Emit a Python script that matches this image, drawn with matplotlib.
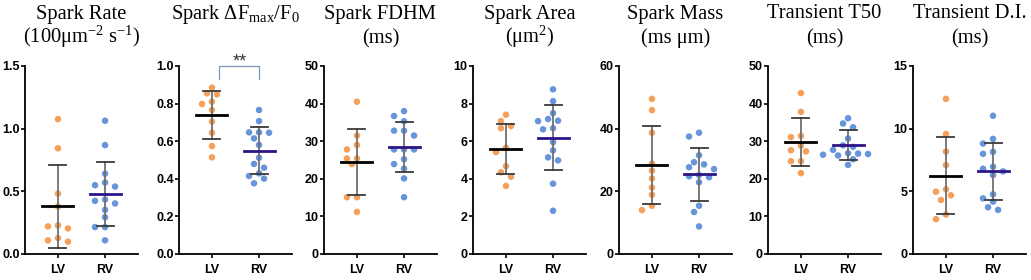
import numpy as np
import matplotlib
matplotlib.use("Agg")
import matplotlib.pyplot as plt

plt.rcParams["mathtext.fontset"] = "custom"
plt.rcParams["mathtext.rm"] = "Liberation Serif"
plt.rcParams["mathtext.it"] = "Liberation Serif:italic"

orange = "#F5A05A"
blue = "#6695DC"

groups = ["LV", "RV"]

titles = [
    ("Spark Rate", r"(100$\mathregular{\mu m^{-2}\ s^{-1}}$)"),
    (r"Spark $\mathregular{\Delta F_{max}/F_0}$", None),
    ("Spark FDHM", "(ms)"),
    ("Spark Area", r"($\mathregular{\mu m^2}$)"),
    ("Spark Mass", "(ms μm)"),
    ("Transient T50", "(ms)"),
    ("Transient D.I.", "(ms)"),
]

yticks = [
    [0.0, 0.5, 1.0, 1.5],
    [0.0, 0.2, 0.4, 0.6, 0.8, 1.0],
    [0, 10, 20, 30, 40, 50],
    [0, 2, 4, 6, 8, 10],
    [0, 20, 40, 60],
    [0, 10, 20, 30, 40, 50],
    [0, 5, 10, 15],
]
ytick_fmt = ["{:.1f}", "{:.1f}", "{:d}", "{:d}", "{:d}", "{:d}", "{:d}"]

rate_lv = [1.076, 0.843, 0.482, 0.379, 0.228, 0.220, 0.204, 0.098, 0.127, 0.109]
rate_rv = [1.063, 0.869, 0.641, 0.549, 0.570, 0.538, 0.435, 0.424, 0.403, 0.352,
           0.294, 0.215, 0.215, 0.109]
amp_lv = [0.885, 0.849, 0.855, 0.810, 0.798, 0.766, 0.704, 0.645, 0.574, 0.514]
amp_rv = [0.766, 0.707, 0.647, 0.645, 0.647, 0.615, 0.580, 0.512, 0.479, 0.459,
          0.429, 0.415, 0.401, 0.376]
fdhm_lv = [40.5, 31.5, 29.0, 27.8, 25.4, 25.4, 23.9, 15.1, 15.1, 11.2]
fdhm_rv = [38.0, 36.7, 35.3, 32.8, 32.8, 31.5, 27.8, 27.8, 27.8, 25.2, 23.9, 22.7,
           20.1, 15.1]
area_lv = [7.41, 7.07, 6.81, 6.69, 5.65, 5.42, 4.67, 4.35, 4.11, 3.62]
area_rv = [8.76, 8.13, 7.49, 7.07, 7.09, 7.18, 6.63, 6.69, 5.95, 5.51, 5.14, 4.98,
           3.74, 2.30]
mass_lv = [49.5, 45.9, 38.7, 28.9, 26.6, 24.1, 21.2, 18.9, 15.4, 14.0]
mass_rv = [38.7, 37.5, 31.5, 29.3, 28.6, 27.7, 27.1, 25.2, 24.8, 24.5, 22.9, 15.4,
           13.4, 8.8]
t50_lv = [42.8, 37.8, 31.4, 31.1, 28.8, 27.6, 27.3, 24.7, 24.7, 21.5]
t50_rv = [36.1, 34.7, 33.7, 30.7, 28.9, 28.5, 27.7, 26.8, 26.7, 26.6, 26.4, 26.2,
          25.2, 23.7]
di_lv = [12.38, 9.58, 8.17, 7.09, 5.16, 4.97, 4.68, 4.31, 3.15, 2.78]
di_rv = [11.03, 9.18, 8.81, 8.15, 7.99, 6.96, 6.80, 6.59, 6.30, 4.76, 4.44, 4.18,
         3.73, 3.52]

lv_data = [rate_lv, amp_lv, fdhm_lv, area_lv, mass_lv, t50_lv, di_lv]
rv_data = [rate_rv, amp_rv, fdhm_rv, area_rv, mass_rv, t50_rv, di_rv]

# mean and SD as shown in the figure
lv_mean = [0.379, 0.739, 24.4, 5.58, 28.3, 29.8, 6.25]
rv_mean = [0.480, 0.549, 28.5, 6.19, 25.4, 29.0, 6.61]
lv_sd = [0.334, 0.126, 8.75, 1.35, 12.5, 6.3, 3.06]
rv_sd = [0.257, 0.126, 6.6, 1.745, 8.4, 3.9, 2.275]

spine_px = [25, 179, 324, 473, 619, 768, 913]
W, H = 1031, 280
ax_w = 113
ax_bottom = 254
ax_top = 66
x_px_per_unit = ax_w / 2.4


def swarm_offsets(vals, y_px_per_unit, step=5.0, dist=7.0):
    # simple beeswarm in pixel space, returns x offsets in data units
    y = np.asarray(vals, dtype=float) * y_px_per_unit
    order = np.argsort(-y)
    placed = []
    offs = np.zeros(len(y))
    cands = [0.0]
    for k in range(1, 12):
        cands += [-k * step, k * step]
    for idx in order:
        for c in cands:
            ok = all((c - px) ** 2 + (y[idx] - py) ** 2 >= dist ** 2
                     for px, py in placed)
            if ok:
                break
        placed.append((c, y[idx]))
        offs[idx] = c / x_px_per_unit
    return offs


fig = plt.figure(figsize=(W / 100, H / 100), dpi=100)

for i in range(7):
    ax = fig.add_axes([spine_px[i] / W, (H - ax_bottom) / H, ax_w / W,
                       (ax_bottom - ax_top) / H])
    ymax = yticks[i][-1]
    y_px_per_unit = (ax_bottom - ax_top) / ymax

    for pos, vals, col, m, sd, mcol in [
        (0, lv_data[i], orange, lv_mean[i], lv_sd[i], "black"),
        (1, rv_data[i], blue, rv_mean[i], rv_sd[i], "#2E1586"),
    ]:
        xs = pos + swarm_offsets(vals, y_px_per_unit)
        ax.scatter(xs, vals, s=22, color=col, edgecolors="none", zorder=2)
        ax.plot([pos, pos], [m - sd, m + sd], color="#707070", lw=1.3, zorder=3)
        for y in (m - sd, m + sd):
            ax.plot([pos - 0.18, pos + 0.18], [y, y], color="#3a3a3a", lw=1.3,
                    zorder=3)
        ax.plot([pos - 0.33, pos + 0.33], [m, m], color=mcol, lw=2.0, zorder=4)

    ax.set_xlim(-0.7, 1.7)
    ax.set_ylim(0, ymax)
    ax.set_xticks([0, 1])
    ax.set_xticklabels(groups)
    ax.set_yticks(yticks[i])
    ax.set_yticklabels([ytick_fmt[i].format(t) for t in yticks[i]])
    for lab in ax.get_xticklabels() + ax.get_yticklabels():
        lab.set_fontfamily("Liberation Sans")
        lab.set_fontweight("bold")
        lab.set_fontsize(9)
    ax.tick_params(axis="x", length=3, width=1.2, pad=4)
    ax.tick_params(axis="y", length=3, width=1.2, pad=0.8)
    for s in ("top", "right"):
        ax.spines[s].set_visible(False)
    for s in ("left", "bottom"):
        ax.spines[s].set_linewidth(1.3)

    cx = (spine_px[i] + ax_w / 2) / W
    t1, t2 = titles[i]
    fig.text(cx, 1 - 18.5 / H, t1, ha="center", va="baseline",
             family="Liberation Serif", fontsize=14.8)
    if t2:
        fig.text(cx, 1 - 43 / H, t2, ha="center", va="baseline",
                 family="Liberation Serif", fontsize=14.8)

    if i == 1:
        ax.plot([0.15, 0.15, 1.0, 1.0], [0.93, 1.0, 1.0, 0.93], color="#7F97B2",
                lw=0.9, clip_on=False)
        ax.text(0.6, 1.02, "**", ha="center", va="center", fontsize=13,
                family="Liberation Sans", color="#333333")

fig.savefig("out.png", dpi=100)
